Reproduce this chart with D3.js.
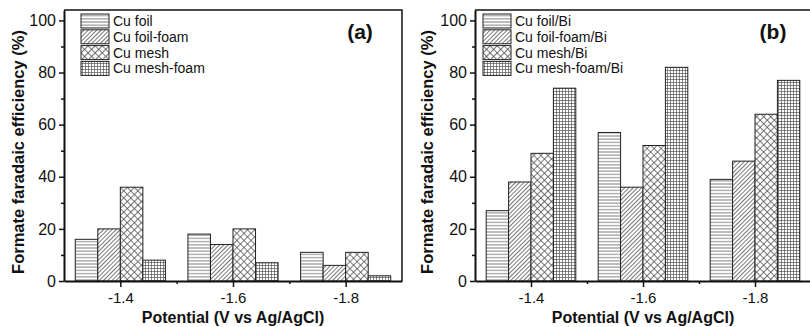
<!DOCTYPE html>
<html>
<head>
<meta charset="utf-8">
<script src="https://cdn.jsdelivr.net/npm/d3@7"></script>
<style>
  body { margin: 0; background: #fff; }
  text { font-family: "Liberation Sans", Arial, sans-serif; }
</style>
</head>
<body>
<svg width="810" height="327"></svg>
<script>
// data
var potentials = [-1.4, -1.6, -1.8];
var xTicks = [-1.4, -1.6, -1.8];
var yTicks = [0, 20, 40, 60, 80, 100];
var seriesA = ["Cu foil", "Cu foil-foam", "Cu mesh", "Cu mesh-foam"];
var seriesB = ["Cu foil/Bi", "Cu foil-foam/Bi", "Cu mesh/Bi", "Cu mesh-foam/Bi"];
// values per series, one entry per potential
var valuesA = [
  [16, 18, 11],
  [20, 14, 6],
  [36, 20, 11],
  [8, 7, 2]
];
var valuesB = [
  [27, 57, 39],
  [38, 36, 46],
  [49, 52, 64],
  [74, 82, 77]
];
var patterns = ["horiz", "diag", "cross", "grid"];

var svg = d3.select("svg");
var defs = svg.append("defs");

// fill patterns
var pc = "#555";
var p = defs.append("pattern").attr("id", "horiz").attr("patternUnits", "userSpaceOnUse")
  .attr("width", 6).attr("height", 3.2);
p.append("rect").attr("width", 6).attr("height", 3.2).attr("fill", "#fff");
p.append("line").attr("x1", 0).attr("x2", 6).attr("y1", 1.6).attr("y2", 1.6).attr("stroke", pc).attr("stroke-width", 0.8);

p = defs.append("pattern").attr("id", "diag").attr("patternUnits", "userSpaceOnUse")
  .attr("width", 3).attr("height", 3).attr("patternTransform", "rotate(45)");
p.append("rect").attr("width", 3).attr("height", 3).attr("fill", "#fff");
p.append("line").attr("x1", 1.5).attr("x2", 1.5).attr("y1", 0).attr("y2", 3).attr("stroke", pc).attr("stroke-width", 0.8);

p = defs.append("pattern").attr("id", "cross").attr("patternUnits", "userSpaceOnUse")
  .attr("width", 5).attr("height", 5).attr("patternTransform", "rotate(45)");
p.append("rect").attr("width", 5).attr("height", 5).attr("fill", "#fff");
p.append("line").attr("x1", 0).attr("x2", 5).attr("y1", 2.5).attr("y2", 2.5).attr("stroke", pc).attr("stroke-width", 0.8);
p.append("line").attr("x1", 2.5).attr("x2", 2.5).attr("y1", 0).attr("y2", 5).attr("stroke", pc).attr("stroke-width", 0.8);

p = defs.append("pattern").attr("id", "grid").attr("patternUnits", "userSpaceOnUse")
  .attr("width", 3).attr("height", 3);
p.append("rect").attr("width", 3).attr("height", 3).attr("fill", "#fff");
p.append("line").attr("x1", 0).attr("x2", 3).attr("y1", 1.5).attr("y2", 1.5).attr("stroke", pc).attr("stroke-width", 0.7);
p.append("line").attr("x1", 1.5).attr("x2", 1.5).attr("y1", 0).attr("y2", 3).attr("stroke", pc).attr("stroke-width", 0.7);

function panel(opt) {
  var x = d3.scaleLinear().domain([-1.3, -1.9]).range([opt.left, opt.right]);
  var y = d3.scaleLinear().domain([0, 104]).range([opt.bottom, opt.top]);
  var g = svg.append("g");
  var bw = 0.04;

  // bars
  opt.values.forEach(function(vals, i) {
    g.selectAll(null)
      .data(vals)
      .enter().append("rect")
      .attr("x", function(d, j) { return x(potentials[j] + (i - 2) * -bw); })
      .attr("width", x(-1.3 - bw) - x(-1.3))
      .attr("y", function(d) { return y(d); })
      .attr("height", function(d) { return y(0) - y(d); })
      .attr("fill", "url(#" + patterns[i] + ")")
      .attr("stroke", "#222").attr("stroke-width", 1);
  });

  // frame top/right
  g.append("path")
    .attr("d", "M" + opt.left + "," + opt.top + "H" + opt.right + "V" + opt.bottom)
    .attr("fill", "none").attr("stroke", "#111").attr("stroke-width", 1.5);

  // axes
  var xAxis = d3.axisBottom(x).tickValues(xTicks).tickSize(6).tickSizeOuter(0)
    .tickFormat(d3.format(".1f"));
  var gx = g.append("g").attr("transform", "translate(0," + opt.bottom + ")").call(xAxis);
  gx.select(".domain").attr("stroke-width", 2);
  g.append("g").attr("transform", "translate(0," + opt.bottom + ")")
    .call(d3.axisBottom(x).tickValues([-1.5, -1.7]).tickSize(3).tickFormat("").tickSizeOuter(0))
    .call(function(s) { s.select(".domain").remove(); });
  gx.selectAll("text").attr("font-size", 15).attr("y", 0).attr("dy", 0)
    .attr("transform", "translate(0,22)").attr("fill", "#111")
    .text(function(d) { return d3.format(".1f")(d).replace("−", "-"); });

  var yAxis = d3.axisLeft(y).tickValues(yTicks).tickSize(5).tickSizeOuter(0);
  var gy = g.append("g").attr("transform", "translate(" + opt.left + ",0)").call(yAxis);
  gy.select(".domain").attr("stroke-width", 2);
  gy.selectAll("text").attr("font-size", 16).attr("fill", "#111").attr("x", -8);
  g.append("g").attr("transform", "translate(" + opt.left + ",0)")
    .call(d3.axisLeft(y).tickValues([10, 30, 50, 70, 90]).tickSize(3).tickFormat("").tickSizeOuter(0))
    .call(function(s) { s.select(".domain").remove(); });
  g.selectAll(".tick line").attr("stroke", "#111").attr("stroke-width", 1.5);
  g.selectAll("path.domain").attr("stroke", "#111");

  // axis titles
  g.append("text")
    .attr("transform", "translate(" + opt.ylabX + ",152) rotate(-90)")
    .attr("text-anchor", "middle").attr("font-size", 16.5).attr("font-weight", "bold")
    .attr("fill", "#111")
    .text("Formate faradaic efficiency (%)");
  g.append("text")
    .attr("x", (x(-1.4) + x(-1.8)) / 2).attr("y", 323)
    .attr("text-anchor", "middle").attr("font-size", 16).attr("font-weight", "bold")
    .attr("fill", "#111")
    .text("Potential (V vs Ag/AgCl)");

  // panel tag
  g.append("text")
    .attr("x", opt.tagX).attr("y", 39)
    .attr("text-anchor", "middle").attr("font-size", 21).attr("font-weight", "bold")
    .attr("font-family", "'Open Sans', sans-serif").attr("fill", "#111")
    .text(opt.tag);

  // legend
  var lg = g.append("g").attr("transform", "translate(" + opt.legX + ",14)");
  opt.names.forEach(function(name, i) {
    lg.append("rect").attr("x", 0).attr("y", i * 15.8).attr("width", 28).attr("height", 14)
      .attr("fill", "url(#" + patterns[i] + ")").attr("stroke", "#222").attr("stroke-width", 1);
    lg.append("text").attr("x", 32).attr("y", i * 15.8 + 7).attr("dy", "0.35em")
      .attr("font-size", 14).attr("fill", "#111").text(name);
  });
}

panel({left: 64, right: 402, top: 10, bottom: 281, values: valuesA, names: seriesA,
  ylabX: 24, tag: "(a)", tagX: 360, legX: 81});
panel({left: 475, right: 811, top: 10, bottom: 281, values: valuesB, names: seriesB,
  ylabX: 433, tag: "(b)", tagX: 773, legX: 483});
</script>
</body>
</html>
